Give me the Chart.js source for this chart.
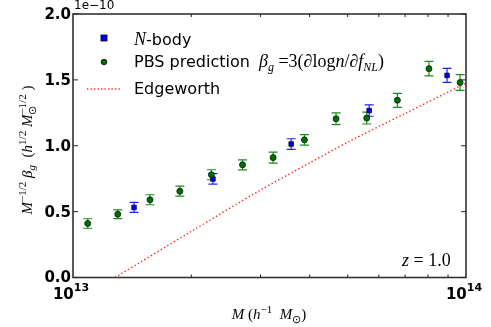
<!DOCTYPE html>
<html>
<head>
<meta charset="utf-8">
<script src="https://cdn.jsdelivr.net/npm/chart.js@4.4.1/dist/chart.umd.min.js"></script>
<style>
  body { margin: 0; background: #fff; }
  canvas { display: block; }
</style>
</head>
<body>
<canvas id="grafico" width="491" height="327"></canvas>
<script>
// Datos (valores en unidades de 1e-10)
const pbsMasa = [1.09e13, 1.30e13, 1.57e13, 1.87e13, 2.25e13, 2.70e13, 3.23e13, 3.88e13, 4.67e13, 5.59e13, 6.69e13, 8.05e13, 9.66e13];
const pbsValor = [0.41, 0.48, 0.59, 0.655, 0.78, 0.855, 0.91, 1.045, 1.205, 1.21, 1.345, 1.585, 1.48];
const pbsError = [0.036, 0.033, 0.038, 0.038, 0.038, 0.038, 0.042, 0.040, 0.045, 0.045, 0.053, 0.055, 0.06];

const nbodyMasa = [1.43e13, 2.27e13, 3.59e13, 5.67e13, 8.95e13];
const nbodyValor = [0.532, 0.748, 1.013, 1.267, 1.534];
const nbodyError = [0.038, 0.040, 0.040, 0.043, 0.053];

const edgeMasa = [1.28e13, 2e13, 3e13, 4e13, 5e13, 7e13, 1e14];
const edgeValor = [0.0, 0.35, 0.664, 0.87, 1.027, 1.245, 1.475];

const yTicks = [0.0, 0.5, 1.0, 1.5, 2.0];
const yTickLabels = ['0.0', '0.5', '1.0', '1.5', '2.0'];
const xMenores = [2e13, 3e13, 4e13, 5e13, 6e13, 7e13, 8e13, 9e13];

const puntos = (xs, ys) => xs.map((x, i) => ({ x: x, y: ys[i] }));

// dibuja texto con sub/superindices
function runs(ctx, x, y, partes, align) {
    let ancho = 0;
    partes.forEach(p => { ctx.font = p.f; if (!p.stay) ancho += ctx.measureText(p.t).width; });
    let cx = align === 'center' ? x - ancho / 2 : x;
    ctx.textAlign = 'left';
    ctx.textBaseline = 'alphabetic';
    partes.forEach(p => {
        ctx.font = p.f;
        ctx.fillText(p.t, cx, y + (p.dy || 0));
        if (!p.stay) cx += ctx.measureText(p.t).width;
    });
    return ancho;
}

const errorBars = {
    id: 'errorBars',
    beforeDatasetsDraw(chart) {
        const ctx = chart.ctx, xs = chart.scales.x, ys = chart.scales.y;
        const grupos = [
            [pbsMasa, pbsValor, pbsError, '#1f8a1f'],
            [nbodyMasa, nbodyValor, nbodyError, '#2020ff']
        ];
        ctx.save();
        ctx.lineWidth = 1.2;
        grupos.forEach(g => {
            ctx.strokeStyle = g[3];
            g[0].forEach((m, i) => {
                const px = xs.getPixelForValue(m);
                const y1 = ys.getPixelForValue(g[1][i] - g[2][i]);
                const y2 = ys.getPixelForValue(g[1][i] + g[2][i]);
                ctx.beginPath();
                ctx.moveTo(px, y1); ctx.lineTo(px, y2);
                ctx.moveTo(px - 4.5, y1); ctx.lineTo(px + 4.5, y1);
                ctx.moveTo(px - 4.5, y2); ctx.lineTo(px + 4.5, y2);
                ctx.stroke();
            });
        });
        ctx.restore();
    }
};

const decoracion = {
    id: 'decoracion',
    afterDraw(chart) {
        const ctx = chart.ctx, a = chart.chartArea, xs = chart.scales.x, ys = chart.scales.y;
        ctx.save();
        // marco
        ctx.strokeStyle = '#333';
        ctx.lineWidth = 1.6;
        ctx.strokeRect(a.left, a.top, a.right - a.left, a.bottom - a.top);
        ctx.lineWidth = 1;
        ctx.strokeStyle = '#222';
        // ticks y
        yTicks.forEach((v, i) => {
            const py = ys.getPixelForValue(v);
            ctx.beginPath();
            ctx.moveTo(a.left, py); ctx.lineTo(a.left + 5, py);
            ctx.moveTo(a.right, py); ctx.lineTo(a.right - 5, py);
            ctx.stroke();
            ctx.fillStyle = '#000';
            ctx.font = 'bold 15px "DejaVu Sans"';
            ctx.textAlign = 'right';
            ctx.textBaseline = 'middle';
            ctx.fillText(yTickLabels[i], a.left - 2, py + 1);
        });
        // ticks menores x
        xMenores.forEach(m => {
            const px = xs.getPixelForValue(m);
            ctx.beginPath();
            ctx.moveTo(px, a.bottom); ctx.lineTo(px, a.bottom - 3);
            ctx.moveTo(px, a.top); ctx.lineTo(px, a.top + 3);
            ctx.stroke();
        });
        // etiquetas x
        ctx.fillStyle = '#000';
        [[1e13, '13'], [1e14, '14']].forEach(t => {
            const px = xs.getPixelForValue(t[0]);
            runs(ctx, px - 2, 299, [
                { t: '10', f: 'bold 15px "DejaVu Sans"' },
                { t: t[1], f: 'bold 11px "DejaVu Sans"', dy: -8 }
            ], 'center');
        });
        // factor de escala
        ctx.font = '12px "DejaVu Sans"';
        ctx.textAlign = 'left';
        ctx.textBaseline = 'alphabetic';
        ctx.fillText('1e\u221210', a.left + 1, 9);

        const it = 'italic 15px "Liberation Serif"';
        const rm = '15px "Liberation Serif"';
        const sIt = 'italic 11px "Liberation Serif"';
        const sRm = '11px "Liberation Serif"';
        // titulo x
        runs(ctx, 269, 319, [
            { t: 'M', f: it }, { t: ' (', f: rm }, { t: 'h', f: it },
            { t: '\u22121', f: sRm, dy: -6 }, { t: '  ', f: rm }, { t: 'M', f: it },
            { t: '\u2299', f: sRm, dy: 4 }, { t: ')', f: rm }
        ], 'center');
        // titulo y
        ctx.save();
        ctx.translate(32, 150);
        ctx.rotate(-Math.PI / 2);
        runs(ctx, 0, 0, [
            { t: 'M', f: it }, { t: '\u22121/2', f: sRm, dy: -6 }, { t: ' ', f: rm },
            { t: '\u03b2', f: it }, { t: 'g', f: sIt, dy: 3 }, { t: '  (', f: rm },
            { t: 'h', f: it }, { t: '1/2', f: sRm, dy: -6 }, { t: ' M', f: it },
            { t: '\u2299', f: sRm, dy: 4, stay: true }, { t: '\u22121/2', f: sRm, dy: -6 },
            { t: ' )', f: rm }
        ], 'center');
        ctx.restore();

        // leyenda
        ctx.fillStyle = '#0000ff';
        ctx.strokeStyle = '#000';
        ctx.lineWidth = 0.8;
        ctx.fillRect(101, 35, 6, 6);
        ctx.strokeRect(101, 35, 6, 6);
        ctx.fillStyle = '#007000';
        ctx.beginPath();
        ctx.arc(104, 62, 2.8, 0, Math.PI * 2);
        ctx.fill();
        ctx.stroke();
        ctx.strokeStyle = '#ff2020';
        ctx.lineWidth = 1.3;
        ctx.setLineDash([1.3, 2.2]);
        ctx.beginPath();
        ctx.moveTo(87, 89); ctx.lineTo(122, 89);
        ctx.stroke();
        ctx.setLineDash([]);

        ctx.fillStyle = '#000';
        const sans = '16px "DejaVu Sans"';
        const it17 = 'italic 18px "Liberation Serif"';
        const rm17 = '18px "Liberation Serif"';
        const sub = 'italic 12px "Liberation Serif"';
        runs(ctx, 134, 45, [{ t: 'N', f: it17 }, { t: '-body', f: sans }]);
        const w = runs(ctx, 134, 67, [{ t: 'PBS prediction ', f: sans }]);
        runs(ctx, 134 + w + 4, 67, [
            { t: '\u03b2', f: it17 }, { t: 'g', f: sub, dy: 4 },
            { t: ' =3(\u2202log', f: rm17 }, { t: 'n', f: it17 },
            { t: '/\u2202', f: rm17 }, { t: 'f', f: it17 },
            { t: 'NL', f: sub, dy: 4 },
            { t: ')', f: rm17 }
        ]);
        runs(ctx, 134, 94, [{ t: 'Edgeworth', f: sans }]);

        // z = 1.0
        runs(ctx, 402, 266, [
            { t: 'z', f: it17 }, { t: ' = 1.0', f: rm17 }
        ]);
        ctx.restore();
    }
};

const ctx = document.getElementById('grafico').getContext('2d');

const grafico = new Chart(ctx, {
    type: 'scatter',
    data: {
        datasets: [
            {
                type: 'line',
                label: 'Edgeworth',
                data: puntos(edgeMasa, edgeValor),
                borderColor: '#ff2020',
                borderWidth: 1.4,
                borderDash: [1.4, 2.4],
                pointRadius: 0,
                fill: false,
                tension: 0.3
            },
            {
                label: 'PBS prediction',
                data: puntos(pbsMasa, pbsValor),
                backgroundColor: '#007000',
                borderColor: '#002000',
                borderWidth: 0.8,
                pointRadius: 3,
                pointStyle: 'circle'
            },
            {
                label: 'N-body',
                data: puntos(nbodyMasa, nbodyValor),
                backgroundColor: '#0000ff',
                borderColor: '#000040',
                borderWidth: 0.8,
                pointRadius: 3.2,
                pointStyle: 'rect'
            }
        ]
    },
    options: {
        responsive: false,
        animation: false,
        devicePixelRatio: 1,
        layout: { padding: { left: 73, right: 25, top: 14, bottom: 49.5 } },
        plugins: {
            legend: { display: false },
            tooltip: { enabled: false }
        },
        scales: {
            x: { type: 'logarithmic', min: 1e13, max: 1e14, display: false },
            y: { type: 'linear', min: 0, max: 2, display: false }
        }
    },
    plugins: [errorBars, decoracion]
});
</script>
</body>
</html>
